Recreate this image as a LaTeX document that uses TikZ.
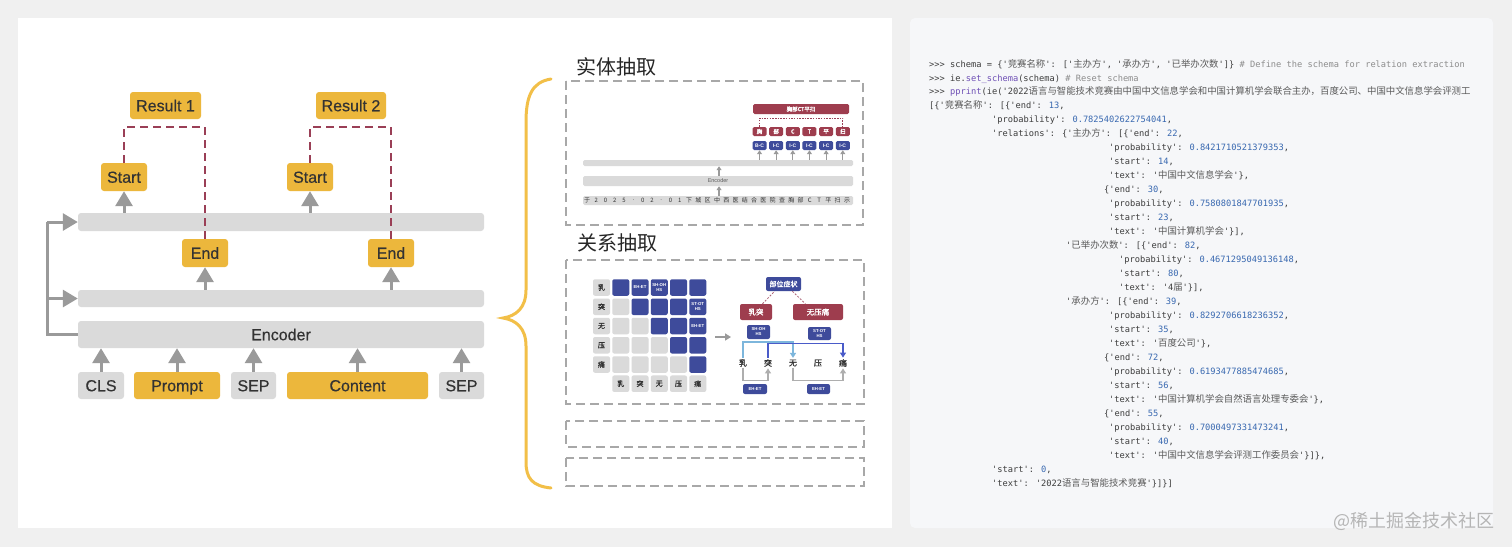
\documentclass[tikz,border=0pt]{standalone}
\usepackage{fontspec}
\setmainfont{Liberation Sans}
\newfontfamily\medfont[FakeBold=0.5]{Liberation Sans}
\newfontfamily\cjk{Noto Sans CJK SC}
\newfontfamily\cjkb[FakeBold=1.5]{Noto Sans CJK SC}
\newfontfamily\codefont{DejaVu Sans Mono}
\usetikzlibrary{arrows.meta,calc}
\definecolor{bgc}{HTML}{F0F0F0}
\definecolor{gold}{HTML}{ECB73C}
\definecolor{lgr}{HTML}{DADADA}
\definecolor{agr}{HTML}{9A9A9A}
\definecolor{txt}{HTML}{333333}
\definecolor{dred}{HTML}{9A3F56}
\definecolor{bracec}{HTML}{F2BF48}
\definecolor{dgr}{HTML}{A8A8A8}
\definecolor{mred}{HTML}{9E3D4E}
\definecolor{mblue}{HTML}{3E4B9B}
\definecolor{lblue}{HTML}{7DB6DC}
\definecolor{dblue}{HTML}{4A5BC9}
\definecolor{codebg}{HTML}{F6F7F9}
\definecolor{ctxt}{HTML}{3C3C3C}
\definecolor{cnum}{HTML}{3868B0}
\definecolor{ccom}{HTML}{8C8C8C}
\definecolor{cfun}{HTML}{6E4FB5}
\definecolor{ccjk}{HTML}{5A5A5A}
\definecolor{wm}{HTML}{B5B5B5}
\newcommand\myfs[1]{\fontsize{#1}{#1}\selectfont}
\newcommand\cj[1]{{\cjk\fontsize{9.4}{10}\selectfont\color{ccjk}#1}}
\newcommand\nm[1]{\textcolor{cnum}{#1}}
\newcommand\cm[1]{\textcolor{ccom}{#1}}
\newcommand\fn[1]{\textcolor{cfun}{#1}}
\tikzset{
  gbox/.style={fill=gold, rounded corners=3pt, inner sep=0pt, text=txt, font=\medfont\myfs{16}, text height=11.5pt, text depth=0pt},
  gybox/.style={fill=lgr, rounded corners=3pt, inner sep=0pt, text=txt, font=\medfont\myfs{16}, text height=11.5pt, text depth=0pt},
  bar/.style={fill=lgr, rounded corners=3pt, inner sep=0pt},
  bigarrow/.style={draw=agr, line width=3pt, -{Triangle[width=17pt,length=15pt]}},
  feed/.style={draw=agr, line width=3pt},
  rdash/.style={draw=dred, line width=1.5pt, dash pattern=on 8pt off 5pt},
  gdash/.style={draw=dgr, line width=1.6pt, dash pattern=on 9pt off 5pt},
  title/.style={font=\cjk\myfs{20}, text=black!85, inner sep=0pt},
  sbar/.style={fill=lgr, rounded corners=1.5pt, inner sep=0pt, minimum width=270pt},
  smarrow/.style={draw=agr, line width=1.2pt, -{Triangle[width=5pt,length=4pt]}},
  redsm/.style={fill=mred, rounded corners=1.5pt, inner sep=0pt, minimum width=14pt, minimum height=9pt, text=white, font=\cjkb\myfs{5.5}},
  bluesm/.style={fill=mblue, rounded corners=1.5pt, inner sep=0pt, minimum width=14pt, minimum height=9pt, text=white, font=\bfseries\myfs{5}},
  sch/.style={inner sep=0pt, text=txt, font=\cjk\myfs{6}},
  gcell/.style={fill=lgr, rounded corners=2pt, inner sep=0pt, minimum width=17pt, minimum height=16.5pt, text=txt, font=\cjkb\myfs{7}},
  bcell/.style={fill=mblue, rounded corners=2pt, inner sep=0pt, minimum width=17pt, minimum height=16.5pt},
  ctext/.style={inner sep=0pt, text=white, align=center, font=\bfseries\fontsize{4.3}{5}\selectfont},
  tbox/.style={rounded corners=2pt, inner sep=0pt, text=white, align=center},
  tch/.style={inner sep=1.5pt, text=txt, font=\cjkb\myfs{8}},
  code/.style={anchor=base west, inner sep=0pt, text=ctxt, font=\codefont\fontsize{8.7}{10}\selectfont},
}
\begin{document}
\begin{tikzpicture}[x=1pt,y=-1pt]
\useasboundingbox (0,0) rectangle (1512,547);
\fill[bgc] (0,0) rectangle (1512,547);
\fill[white] (18,18) rectangle (892,528);
\fill[codebg, rounded corners=5pt] (910,18) rectangle (1493,528);

% ---------------- left diagram ----------------
\node[bar, minimum width=406pt, minimum height=18pt] (b3) at (281,222) {};
\node[bar, minimum width=406pt, minimum height=17pt] (b2) at (281,298.5) {};
\node[gybox, minimum width=406pt, minimum height=27pt] (enc) at (281,334.5) {Encoder};

\node[gbox, minimum width=71pt, minimum height=27pt] (r1) at (165.5,105.5) {Result 1};
\node[gbox, minimum width=70pt, minimum height=27pt] (r2) at (351,105.5) {Result 2};
\node[gbox, minimum width=46pt, minimum height=28pt] (s1) at (124,177) {Start};
\node[gbox, minimum width=46pt, minimum height=28pt] (s2) at (310,177) {Start};
\node[gbox, minimum width=46pt, minimum height=28pt] (e1) at (205,253) {End};
\node[gbox, minimum width=46pt, minimum height=28pt] (e2) at (391,253) {End};

\node[gybox, minimum width=46pt, minimum height=27pt] (cls) at (101,385.5) {CLS};
\node[gbox, minimum width=86pt, minimum height=27pt] (prm) at (177,385.5) {Prompt};
\node[gybox, minimum width=45pt, minimum height=27pt] (sep1) at (253.5,385.5) {SEP};
\node[gbox, minimum width=141pt, minimum height=27pt] (cnt) at (357.5,385.5) {Content};
\node[gybox, minimum width=45pt, minimum height=27pt] (sep2) at (461.5,385.5) {SEP};

\foreach \n in {cls,prm,sep1,cnt,sep2}
  \draw[bigarrow] (\n.north) -- (\n.north |- enc.south);
\draw[bigarrow] (s1.south |- b3.north) -- (s1.south);
\draw[bigarrow] (s2.south |- b3.north) -- (s2.south);
\draw[bigarrow] (e1.south |- b2.north) -- (e1.south);
\draw[bigarrow] (e2.south |- b2.north) -- (e2.south);

\coordinate (fbot) at (47,334.5);
\coordinate (ftop) at (47,222);
\coordinate (fmid) at (47,298.5);
\draw[feed] (enc.west) -- (fbot) -- (ftop);
\draw[bigarrow] (ftop) -- (b3.west);
\draw[bigarrow] (fmid) -- (b2.west);

\draw[rdash] (s1.north) -- (s1.north |- 0,127) -| (e1.north);
\draw[rdash] (s2.north) -- (s2.north |- 0,127) -| (e2.north);

% ---------------- brace ----------------
\draw[bracec, line width=3pt, line cap=round]
  (551,79) .. controls (532,82) and (526,96) .. (526,122) -- (526,290)
  .. controls (526,308) and (516,316) .. (503,318)
  .. controls (516,320) and (526,328) .. (526,346) -- (526,462)
  .. controls (526,478) and (532,486) .. (551,488);

% ---------------- entity extraction ----------------
\node[title] (t1) at (616,67) {实体抽取};
\draw[gdash] (566,81) rectangle (863,225);
\node[sbar, minimum height=6pt] (eb1) at (718,163) {};
\node[sbar, minimum height=10pt, text=txt!80, font=\myfs{5.5}] (eenc) at (718,181) {Encoder};
\node[sbar, minimum height=9pt] (esen) at (718,200.5) {};
\draw[smarrow] ($(eenc.north)+(1,0)$) -- ($(eb1.south)+(1,0)$);
\draw[smarrow] ($(esen.north)+(1,0)$) -- ($(eenc.south)+(1,0)$);
\foreach \ch [count=\i from 0] in {于,2,0,2,5,.,0,2,.,0,1,下,城,区,中,西,医,结,合,医,院,查,胸,部,C,T,平,扫,示}
  \node[sch] (sc\i) at (587+\i*9.286,200.5) {\ch};
\node[fill=mred, rounded corners=1.5pt, inner sep=0pt, minimum width=96pt, minimum height=10pt, text=white, font=\cjkb\myfs{5.5}] (ehead) at (801,109) {胸部CT平扫};
\foreach \ch/\lab [count=\i from 0] in {胸/B-C,部/I-C,C/I-C,T/I-C,平/I-C,扫/I-C}{
  \node[redsm] (ec\i) at (759.5+\i*16.65,131.5) {\ch};
  \node[bluesm] (el\i) at (759.5+\i*16.65,145.5) {\lab};
  \draw[smarrow] (el\i.south |- eb1.north) -- (el\i.south);
}
\draw[dred, line width=0.6pt, dash pattern=on 1.5pt off 1.2pt] (ec0.north) -- (ec0.north |- 0,118) -| (ec5.north);

% ---------------- relation extraction ----------------
\node[title] (t2) at (617,243) {关系抽取};
\draw[gdash] (566,260) rectangle (864,404);
\draw[gdash] (566,421) rectangle (864,447);
\draw[gdash] (566,458) rectangle (864,486);

\foreach \ch [count=\r] in {乳,突,无,压,痛}{
  \node[gcell] (rl\r) at (601.5,287.5+\r*19.25-19.25) {\ch};
  \node[gcell] (cl\r) at (601.5+\r*19.25,383.7) {\ch};
}
\foreach \r in {1,...,5}{
  \foreach \c in {1,...,5}{
    \ifnum\c<\r
      \node[gcell] (g\r\c) at (601.5+\c*19.25,287.5+\r*19.25-19.25) {};
    \else
      \node[bcell] (g\r\c) at (601.5+\c*19.25,287.5+\r*19.25-19.25) {};
    \fi
  }
}
\node[ctext] (t12) at (g12) {EH-ET};
\node[ctext] (t13) at (g13) {SH-OH\\HS};
\node[ctext] (t25) at (g25) {ST-OT\\HS};
\node[ctext] (t35) at (g35) {EH-ET};

\coordinate (ga1) at (715,337);
\coordinate (ga2) at (731,337);
\draw[draw=agr, line width=1.6pt, -{Triangle[width=7pt,length=6pt]}] (ga1) -- (ga2);

\node[tbox, fill=mblue, minimum width=35pt, minimum height=14pt, font=\cjkb\myfs{7}] (bw) at (783.5,284) {部位症状};
\node[tbox, fill=mred, minimum width=32pt, minimum height=16pt, font=\cjkb\myfs{7.5}] (rt) at (756,312) {乳突};
\node[tbox, fill=mred, minimum width=50pt, minimum height=16pt, font=\cjkb\myfs{7.5}] (wyt) at (818,312) {无压痛};
\draw[dred!80, line width=0.8pt, dash pattern=on 2pt off 1.5pt] ($(rt.north)!0.4!(rt.north east)$) -- ($(bw.south)!0.5!(bw.south west)$);
\draw[dred!80, line width=0.8pt, dash pattern=on 2pt off 1.5pt] ($(bw.south)!0.5!(bw.south east)$) -- ($(wyt.north)!0.5!(wyt.north west)$);
\node[tbox, fill=mblue, minimum width=23pt, minimum height=14pt, font=\bfseries\fontsize{4.3}{5}\selectfont] (shoh) at (758.5,332) {SH-OH\\HS};
\node[tbox, fill=mblue, minimum width=23pt, minimum height=13pt, font=\bfseries\fontsize{4.3}{5}\selectfont] (stot) at (819.5,333.5) {ST-OT\\HS};

\foreach \ch [count=\i] in {乳,突,无,压,痛}
  \node[tch] (c\i) at (718+\i*25,363) {\ch};

\draw[lblue, line width=1.3pt, -{Triangle[width=6pt,length=5pt]}] (c1.north) -- ++(0,-15.5) -| (c3.north);
\draw[dblue, line width=1.3pt, -{Triangle[width=6pt,length=5pt]}] (c2.north) -- ++(0,-14) -| (c5.north);
\draw[agr!80, line width=1.2pt, -{Triangle[width=6pt,length=5pt]}] (c1.south) -- ++(0,12.5) -| (c2.south);
\draw[agr!80, line width=1.2pt, -{Triangle[width=6pt,length=5pt]}] (c3.south) -- ++(0,12.5) -| (c5.south);
\node[tbox, fill=mblue, minimum width=24pt, minimum height=10pt, font=\bfseries\myfs{4.3}] (eh1) at (755,389) {EH-ET};
\node[tbox, fill=mblue, minimum width=23pt, minimum height=10pt, font=\bfseries\myfs{4.3}] (eh2) at (818.5,389) {EH-ET};

% ---------------- code panel ----------------
\begin{scope}
\clip (910,18) rectangle (1490,528);
\node[code] (l1) at (929,67.0) {>>> schema = \{'\cj{竞赛名称}': ['\cj{主办方}', '\cj{承办方}', '\cj{已举办次数}']\} \cm{\# Define the schema for relation extraction}};
\node[code] (l2) at (929,81.0) {>>> ie.\fn{set\_schema}(schema) \cm{\# Reset schema}};
\node[code] (l3) at (929,94.9) {>>> \fn{pprint}(ie('2022\cj{语言与智能技术竞赛由中国中文信息学会和中国计算机学会联合主办，百度公司、中国中文信息学会评测工}};
\node[code] (l4) at (929,108.9) {[\{'\cj{竞赛名称}': [\{'end': \nm{13},};
\node[code] (l5) at (992,122.9) {'probability': \nm{0.7825402622754041},};
\node[code] (l6) at (992,136.8) {'relations': \{'\cj{主办方}': [\{'end': \nm{22},};
\node[code] (l7) at (1109,150.8) {'probability': \nm{0.8421710521379353},};
\node[code] (l8) at (1109,164.8) {'start': \nm{14},};
\node[code] (l9) at (1109,178.7) {'text': '\cj{中国中文信息学会}'\},};
\node[code] (l10) at (1104,192.7) {\{'end': \nm{30},};
\node[code] (l11) at (1109,206.7) {'probability': \nm{0.7580801847701935},};
\node[code] (l12) at (1109,220.6) {'start': \nm{23},};
\node[code] (l13) at (1109,234.6) {'text': '\cj{中国计算机学会}'\}],};
\node[code] (l14) at (1066,248.6) {'\cj{已举办次数}': [\{'end': \nm{82},};
\node[code] (l15) at (1119,262.5) {'probability': \nm{0.4671295049136148},};
\node[code] (l16) at (1119,276.5) {'start': \nm{80},};
\node[code] (l17) at (1119,290.5) {'text': '4\cj{届}'\}],};
\node[code] (l18) at (1066,304.4) {'\cj{承办方}': [\{'end': \nm{39},};
\node[code] (l19) at (1109,318.4) {'probability': \nm{0.8292706618236352},};
\node[code] (l20) at (1109,332.4) {'start': \nm{35},};
\node[code] (l21) at (1109,346.3) {'text': '\cj{百度公司}'\},};
\node[code] (l22) at (1104,360.3) {\{'end': \nm{72},};
\node[code] (l23) at (1109,374.3) {'probability': \nm{0.6193477885474685},};
\node[code] (l24) at (1109,388.2) {'start': \nm{56},};
\node[code] (l25) at (1109,402.2) {'text': '\cj{中国计算机学会自然语言处理专委会}'\},};
\node[code] (l26) at (1104,416.2) {\{'end': \nm{55},};
\node[code] (l27) at (1109,430.1) {'probability': \nm{0.7000497331473241},};
\node[code] (l28) at (1109,444.1) {'start': \nm{40},};
\node[code] (l29) at (1109,458.1) {'text': '\cj{中国中文信息学会评测工作委员会}'\}]\},};
\node[code] (l30) at (992,472.0) {'start': \nm{0},};
\node[code] (l31) at (992,486.0) {'text': '2022\cj{语言与智能技术竞赛}'\}]\}]};
\end{scope}
\node[font=\cjk\myfs{18}, text=wm, inner sep=0pt] (wmk) at (1414,521) {@稀土掘金技术社区};
\end{tikzpicture}
\end{document}
